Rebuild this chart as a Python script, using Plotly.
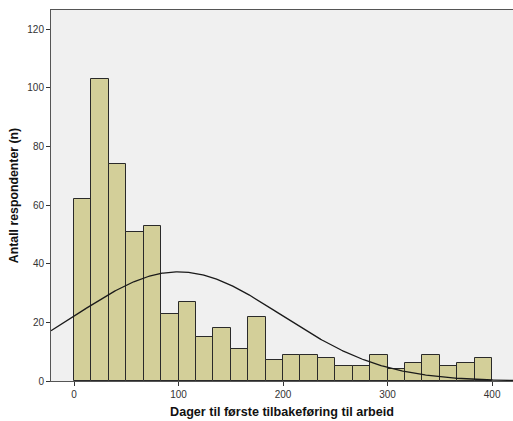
import numpy as np
import plotly.graph_objects as go

# Histogram counts (24 bins from 0 to 400)
counts = [62, 103, 74, 51, 53, 23, 27, 15, 18, 11, 22, 7,
          9, 9, 8, 5, 5, 9, 4, 6, 9, 5, 6, 8]
bin_start = 0
bin_end = 400
x_ticks = [0, 100, 200, 300, 400]
y_ticks = [0, 20, 40, 60, 80, 100, 120]

# Normal curve parameters (as in SPSS overlay)
curve_mean = 100
curve_sd = 98

n_bins = len(counts)
bw = (bin_end - bin_start) / n_bins
centers = [bin_start + bw * (i + 0.5) for i in range(n_bins)]
N = sum(counts)

xc = np.linspace(-22, 420, 400)
yc = N * bw / (curve_sd * np.sqrt(2 * np.pi)) * np.exp(-0.5 * ((xc - curve_mean) / curve_sd) ** 2)

fig = go.Figure()
fig.add_trace(go.Bar(
    x=centers, y=counts, width=[bw] * n_bins,
    marker=dict(color="#d3cf99", line=dict(color="#2a2a2a", width=1)),
    showlegend=False, hoverinfo="skip",
))
fig.add_trace(go.Scatter(
    x=xc, y=yc, mode="lines", line=dict(color="#1a1a1a", width=1.3),
    showlegend=False, hoverinfo="skip",
))

fig.update_layout(
    width=513, height=421,
    margin=dict(l=51, r=0, t=10, b=40),
    paper_bgcolor="white", plot_bgcolor="#f0f0f0",
    bargap=0,
    font=dict(family="Arial, Liberation Sans, sans-serif", color="#222"),
    xaxis=dict(
        range=[-22, 420], tickvals=x_ticks, ticks="outside", ticklen=4,
        tickcolor="#333", tickfont=dict(size=10, color="#333"),
        showgrid=False, zeroline=False, showline=True, linecolor="#555",
        linewidth=1, mirror=True,
        title=dict(text="<b>Dager til første tilbakeføring til arbeid</b>",
                   font=dict(size=12.6, color="#111"), standoff=8),
    ),
    yaxis=dict(
        range=[0, 126.6], tickvals=y_ticks, ticks="outside", ticklen=4,
        tickcolor="#333", tickfont=dict(size=10, color="#333"),
        showgrid=False, zeroline=False, showline=True, linecolor="#555",
        linewidth=1,
        title=dict(text="<b>Antall respondenter (n)</b>",
                   font=dict(size=12.3, color="#111"), standoff=6),
    ),
)

fig.write_html("out.html")
